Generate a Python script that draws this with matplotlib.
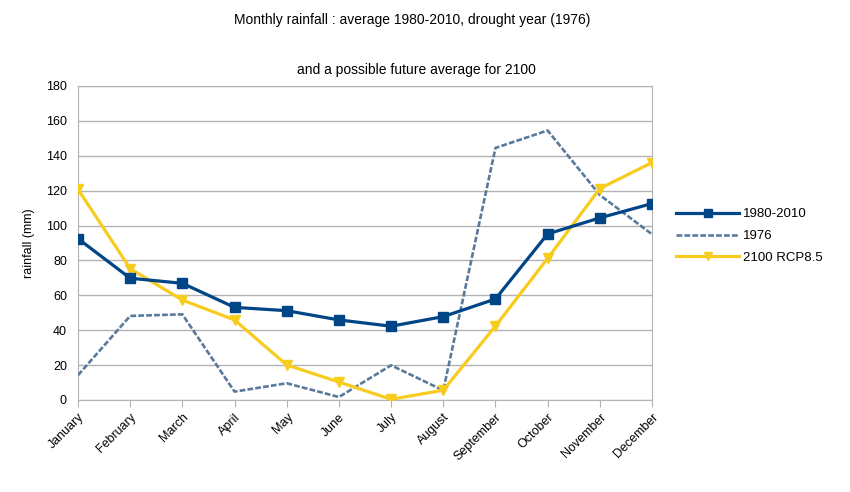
import matplotlib
matplotlib.use("Agg")
import matplotlib.pyplot as plt

months = ["January", "February", "March", "April", "May", "June", "July",
          "August", "September", "October", "November", "December"]
avg_1980_2010 = [92.5, 69.8, 66.9, 53.1, 51.2, 45.9, 42.3, 47.8, 57.9, 95.2, 104.4, 112.6]
drought_1976 = [14.2, 48.2, 49.1, 4.8, 9.6, 1.7, 19.9, 5.5, 144.5, 154.5, 117.5, 95.0]
rcp85_2100 = [120.8, 75.3, 57.3, 45.9, 20.1, 10.3, 0.4, 5.6, 42.4, 81.2, 121.2, 136.1]
yticks = [0, 20, 40, 60, 80, 100, 120, 140, 160, 180]

plt.rcParams['font.family'] = ['Liberation Sans', 'DejaVu Sans']

fig = plt.figure(figsize=(8.5, 4.92), dpi=100)
ax = fig.add_axes([78/850, 1-400/492, (652-78)/850, (400-86)/492])

x = list(range(len(months)))
ax.plot(x, avg_1980_2010, color="#004586", lw=2.3, marker="s", ms=7.5, label="1980-2010", zorder=4)
ax.plot(x, drought_1976, color="#5a7a9c", lw=1.9, ls=(0, (2.2, 0.8)), label="1976", zorder=3)
ax.plot(x, rcp85_2100, color="#f7cc1e", lw=2.3, marker="v", ms=7.5, label="2100 RCP8.5", zorder=3)

ax.set_xlim(0, len(months)-1)
ax.set_ylim(0, 180)
ax.set_yticks(yticks)
ax.set_xticks(x)
ax.set_xticklabels(months, rotation=45, ha="right", rotation_mode="anchor", fontsize=9)
ax.tick_params(axis="y", length=0, labelsize=9, pad=8)
ax.tick_params(axis="x", length=5, color="#b3b3b3", pad=3)
ax.grid(axis="y", color="#b3b3b3", lw=1)
for s in ax.spines.values():
    s.set_color("#b3b3b3")
ax.set_axisbelow(True)
ax.set_ylabel("rainfall (mm)", fontsize=9, labelpad=8)

fig.text(412/850, 1-20/492, "Monthly rainfall : average 1980-2010, drought year (1976)",
         ha="center", va="center", fontsize=10)
fig.text(416/850, 1-70/492, "and a possible future average for 2100",
         ha="center", va="center", fontsize=10)

ax.legend(loc="center left", bbox_to_anchor=(664/850, 1-236/492), bbox_transform=fig.transFigure,
          frameon=False, fontsize=9.5, handlelength=4.8, labelspacing=0.72, handletextpad=0.3,
          markerscale=0.75)

fig.savefig("out.png", dpi=100)
